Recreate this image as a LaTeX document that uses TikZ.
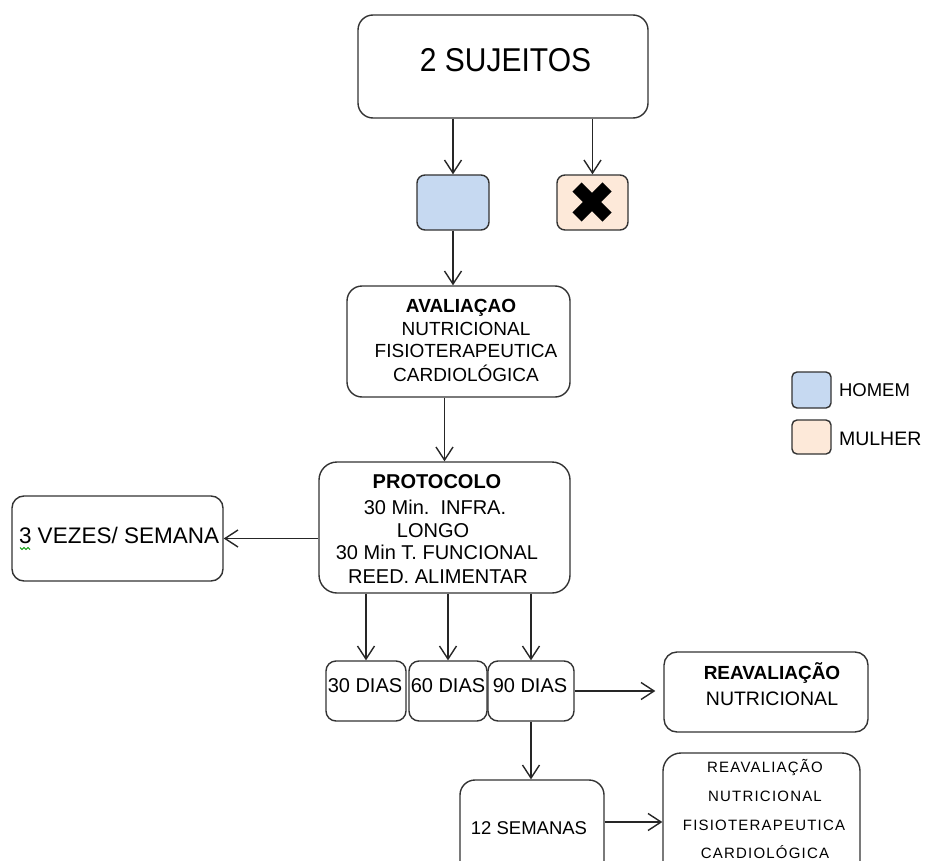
\documentclass[tikz,border=0pt]{standalone}
\usepackage{fontspec}
\setmainfont{Liberation Sans}
\newfontfamily\spacedfont[LetterSpace=8]{Liberation Sans}
\usetikzlibrary{arrows.meta}
\newcommand\fsz[1]{\fontsize{#1}{#1}\selectfont}
\definecolor{homem}{HTML}{C6D9F1}
\definecolor{mulher}{HTML}{FDE9D9}
\definecolor{edge}{HTML}{333333}
\tikzset{
  box/.style={draw=edge, line width=1.4pt, rounded corners=#1, inner sep=0pt, fill=white},
  box/.default=12pt,
  arr/.style={draw=black!85, line width=1.4pt, -{Straight Barb[length=13pt,width=17pt]}},
  lbl/.style={anchor=base, inner sep=0pt, outer sep=0pt},
  lblw/.style={anchor=base west, inner sep=0pt, outer sep=0pt},
}
\begin{document}
\begin{tikzpicture}[x=1pt,y=-1pt]
\useasboundingbox (0,0) rectangle (928,861);
\clip (0,0) rectangle (928,861);
\fill[white] (0,0) rectangle (928,861);

% boxes
\node[box=15pt, minimum width=290pt, minimum height=103pt] (top) at (503,66.5) {};
\node[box=8pt, fill=homem, minimum width=72pt, minimum height=55pt] (blue) at (453,202.5) {};
\node[box=8pt, fill=mulher, minimum width=71pt, minimum height=55pt] (pink) at (592.5,202.5) {};
\node[box=15pt, minimum width=223pt, minimum height=111pt] (aval) at (458.5,341.5) {};
\node[box=18pt, minimum width=251pt, minimum height=131pt] (prot) at (444.5,527.5) {};
\node[box=12pt, minimum width=211pt, minimum height=85pt] (vezes) at (117.5,538.5) {};
\node[box=10pt, minimum width=80pt, minimum height=60pt] (d30) at (366,691) {};
\node[box=10pt, minimum width=78pt, minimum height=60pt] (d60) at (448,691) {};
\node[box=10pt, minimum width=86pt, minimum height=60pt] (d90) at (531,691) {};
\node[box=13pt, minimum width=204pt, minimum height=80pt] (reav1) at (766,692) {};
\node[box=15pt, minimum width=144pt, minimum height=120pt] (sem) at (532,840) {};
\node[box=18pt, minimum width=197pt, minimum height=138pt] (reav2) at (761.5,822) {};
\node[box=5pt, fill=homem, minimum width=39pt, minimum height=36pt] (legB) at (811.5,390) {};
\node[box=5pt, fill=mulher, minimum width=39pt, minimum height=34pt] (legP) at (811.5,437) {};

% cross in pink box
\draw[line width=13pt, black] (577,187) -- (607,217) (577,217) -- (607,187);

% texts
\node[lbl, font=\fsz{30}] (t0) at (505.5,72) {\scalebox{1}[1.1]{2 SUJEITOS}};

\node[lbl, font=\fsz{19}\bfseries] (a1) at (461,312) {AVALIAÇAO};
\node[lbl, font=\fsz{19}] (a2) at (466,335) {NUTRICIONAL};
\node[lbl, font=\fsz{19}] (a3) at (466,357) {FISIOTERAPEUTICA};
\node[lbl, font=\fsz{19}] (a4) at (466,381) {CARDIOLÓGICA};

\node[lbl, font=\fsz{20}\bfseries] (p1) at (437,488) {PROTOCOLO};
\node[lbl, font=\fsz{20}] (p2) at (435,514) {30 Min.\ \ INFRA.};
\node[lbl, font=\fsz{20}] (p3) at (433,537) {LONGO};
\node[lbl, font=\fsz{20}] (p4) at (437,559) {30 Min T. FUNCIONAL};
\node[lbl, font=\fsz{20}] (p5) at (438,583) {REED. ALIMENTAR};

\node[lblw, font=\fsz{22.5}] (v1) at (19,543) {3 VEZES/ SEMANA};
\draw[green!60!black, line width=0.8pt] (20,547.5) -- (22,549.5) -- (24,547.5) -- (26,549.5) -- (28,547.5) -- (30,549.5);

\node[lbl, font=\fsz{20}] (x30) at (365,692) {30 DIAS};
\node[lbl, font=\fsz{20}] (x60) at (448,692) {60 DIAS};
\node[lbl, font=\fsz{20}] (x90) at (530,692) {90 DIAS};

\node[lbl, font=\fsz{19}\bfseries] (r1) at (772,679) {REAVALIAÇÃO};
\node[lbl, font=\fsz{19.5}] (r2) at (772,705) {NUTRICIONAL};

\node[lbl, font=\fsz{18.5}] (s1) at (529,834) {12 SEMANAS};

\node[lbl, font=\spacedfont\fsz{15}] (q1) at (765,772) {REAVALIAÇÃO};
\node[lbl, font=\spacedfont\fsz{15}] (q2) at (765,801) {NUTRICIONAL};
\node[lbl, font=\spacedfont\fsz{15}] (q3) at (764,830) {FISIOTERAPEUTICA};
\node[lbl, font=\spacedfont\fsz{15}] (q4) at (765,858) {CARDIOLÓGICA};

\node[lblw, font=\fsz{18.5}] (h1) at (839,396) {HOMEM};
\node[lblw, font=\fsz{19.5}] (h2) at (839,445) {MULHER};

% connectors
\draw[arr] (blue.north |- top.south) -- (blue.north);
\draw[arr] (pink.north |- top.south) -- (pink.north);
\draw[arr] (blue.south) -- (blue.south |- aval.north);
\draw[arr] (prot.north |- aval.south) -- (prot.north);
\draw[arr] (prot.west |- vezes.east) -- (vezes.east);
\draw[arr] (d30.north |- prot.south) -- (d30.north);
\draw[arr] (d60.north |- prot.south) -- (d60.north);
\draw[arr] (d90.north |- prot.south) -- (d90.north);
\draw[arr, shorten >=8pt] (d90.east) -- (reav1.west |- d90.east);
\draw[arr] (d90.south) -- (d90.south |- sem.north);
\draw[arr] (sem.east |- reav2.west) -- (reav2.west);
\end{tikzpicture}
\end{document}
